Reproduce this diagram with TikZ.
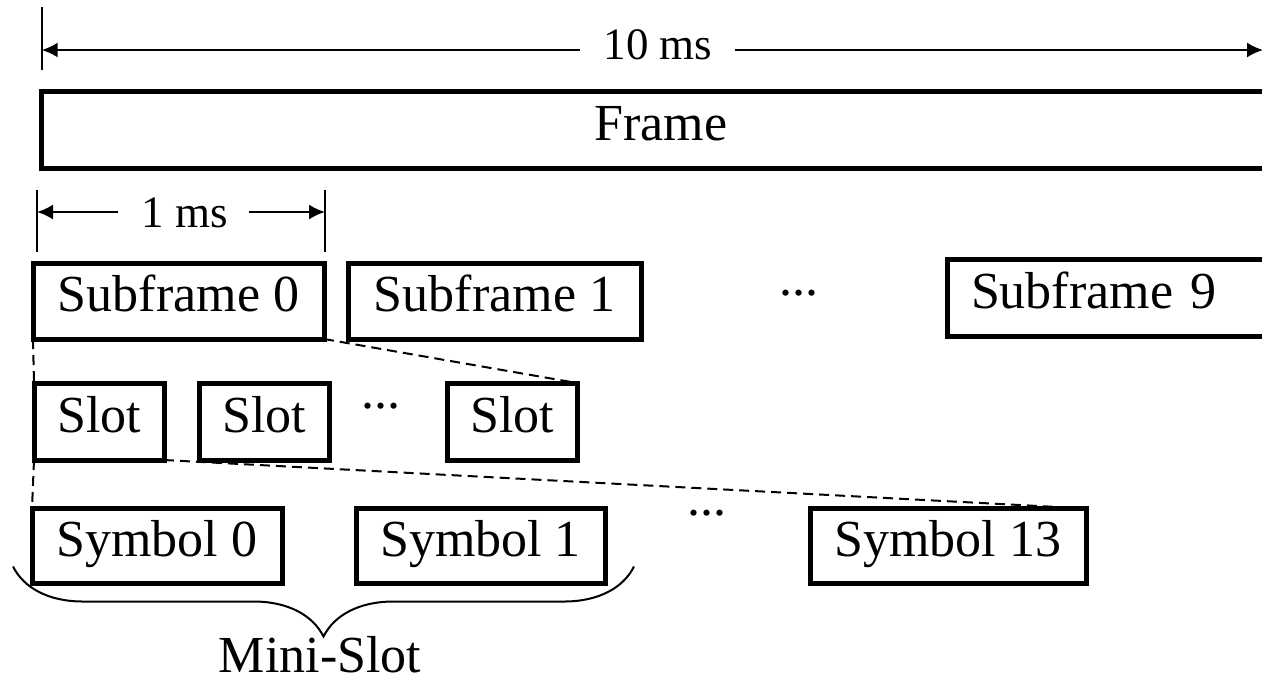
\documentclass[tikz,border=0pt]{standalone}
\usepackage{fontspec}
\setmainfont{Liberation Serif}
\usepackage{tikz}
\usetikzlibrary{arrows.meta,decorations.pathreplacing}
\tikzstyle{blk}=[rectangle,draw=black,line width=2.5pt,outer sep=0pt,
  inner sep=0pt,font=\fontsize{26}{30}\selectfont,
  text height=17pt,text depth=6.5pt]
\tikzstyle{lbl}=[inner sep=0pt,anchor=base,font=\fontsize{26}{30}\selectfont]
\tikzstyle{dim}=[inner sep=0pt,anchor=base,font=\fontsize{22.5}{27}\selectfont]
\tikzstyle{dimline}=[line width=1pt,-{Latex[length=8pt,width=7.5pt]}]
\tikzstyle{tick}=[line width=1pt]
\tikzstyle{zoomline}=[line width=1pt,dash pattern=on 5pt off 3pt]
\tikzstyle{none}=[]

\begin{document}
\begin{tikzpicture}[x=0.5pt,y=-0.5pt]
            \useasboundingbox (0,0) rectangle (1262,677);
            % frame and its length
            \node [style=dim] (15) at (658, 59) {10 ms};
            \coordinate (t0) at (41.7, 7);
            \coordinate (t1) at (41.7, 70);
            \coordinate (a0) at (41.7, 50);
            \coordinate (a1) at (580, 50);
            \coordinate (a2) at (735, 50);
            \coordinate (a3) at (1263, 50);
            \node [style=blk, minimum width=619.25pt, minimum height=38.5pt] (1) at (660.75, 129.5) {Frame};
            % subframes
            \node [style=dim] (16) at (185, 227) {1 ms};
            \coordinate (t2) at (37, 190);
            \coordinate (t3) at (37, 252);
            \coordinate (t4) at (325, 190);
            \coordinate (t5) at (325, 252);
            \coordinate (b0) at (37, 212);
            \coordinate (b1) at (118, 212);
            \coordinate (b2) at (249, 212);
            \coordinate (b3) at (325, 212);
            \node [style=blk, minimum width=145.5pt, minimum height=38pt] (2) at (178.5, 301) {Subframe 0};
            \node [style=blk, minimum width=146.5pt, minimum height=38pt] (3) at (494.5, 301) {Subframe 1};
            \node [style=lbl] (4) at (799, 295) {...};
            \node [style=blk, anchor=west, inner xsep=12pt, text width=147.5pt, align=left, minimum height=38.5pt] (5) at (947, 297.5) {Subframe 9};
            % slots
            \node [style=blk, minimum width=65pt, minimum height=38.5pt] (6) at (99, 421.5) {Slot};
            \node [style=blk, minimum width=65pt, minimum height=38.5pt] (7) at (264, 421.5) {Slot};
            \node [style=lbl] (8) at (381, 408) {...};
            \node [style=blk, minimum width=65pt, minimum height=38.5pt] (9) at (512, 421.5) {Slot};
            % symbols
            \node [style=blk, minimum width=125pt, minimum height=37.5pt] (10) at (157, 546) {Symbol 0};
            \node [style=blk, minimum width=124.5pt, minimum height=37.5pt] (11) at (480.5, 546) {Symbol 1};
            \node [style=lbl] (12) at (707, 515) {...};
            \node [style=blk, minimum width=138pt, minimum height=37.5pt] (13) at (948, 546) {Symbol 13};
            \coordinate (c0) at (634, 566.5);
            \coordinate (c1) at (13, 566.5);
            \node [style=lbl] (14) at (320, 672) {Mini-Slot};
            \draw [style=tick] (t0) to (t1);
            \draw [style=dimline] (a1) to (a0);
            \draw [style=dimline] (a2) to (a3);
            \draw [style=tick] (t2) to (t3);
            \draw [style=tick] (t4) to (t5);
            \draw [style=dimline] (b1) to (b0);
            \draw [style=dimline] (b2) to (b3);
            \draw [style=zoomline] (2.south west) to (6.north west);
            \draw [style=zoomline] (2.south east) to (9.north east);
            \draw [style=zoomline] (6.south west) to (10.north west);
            \draw [style=zoomline] (6.south east) to (13.north east);
            \draw [line width=1pt, decorate, decoration={brace, amplitude=35pt}] (c0) to (c1);
    \end{tikzpicture}
\end{document}
